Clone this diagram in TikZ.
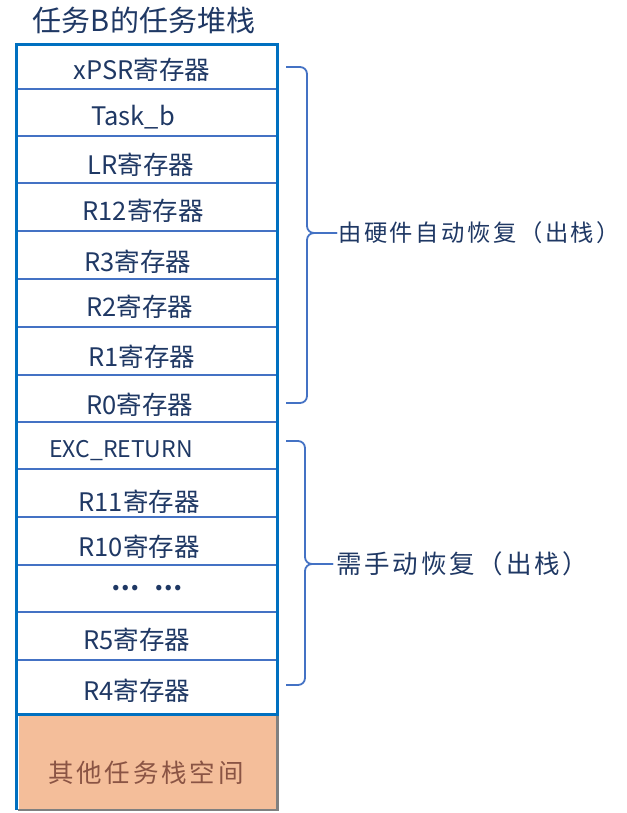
\documentclass[tikz,border=0pt]{standalone}
\usepackage{fontspec}
\setmainfont{Noto Sans CJK SC}
\newfontfamily\spacedcjk[LetterSpace=11]{Noto Sans CJK SC}
\definecolor{navytext}{HTML}{1F3864}
\definecolor{frameblue}{HTML}{0070C0}
\definecolor{lineblue}{HTML}{4472C4}
\definecolor{peach}{HTML}{F4BE9A}
\definecolor{browntext}{HTML}{8A5444}

\tikzstyle{stackrow} = [draw=lineblue, line width=1.5pt, rectangle,
    minimum width=260pt, minimum height=48pt, inner sep=0pt]
\tikzstyle{regtext} = [text=navytext, font=\fontsize{25.5}{30}\selectfont, inner sep=0pt]
\tikzstyle{sidetext} = [text=navytext, font=\spacedcjk\fontsize{25.5}{30}\selectfont,
    anchor=west, inner sep=3pt]
\tikzstyle{curly} = [draw=lineblue, line width=1.8pt, rounded corners=7pt]

\begin{document}
\begin{tikzpicture}[x=1pt, y=-1pt]
\useasboundingbox (0,0) rectangle (626,813);
\node[regtext, font=\fontsize{29}{34}\selectfont] (title) at (144,20) {任务B的任务堆栈};

% stack rows
\node[stackrow, minimum height=44pt] (xpsr) at (147,67) {};
\node[stackrow, minimum height=47pt] (task) at (147,112.5) {};
\node[stackrow, minimum height=47pt] (lr) at (147,159.5) {};
\node[stackrow] (r12) at (147,207) {};
\node[stackrow] (r3) at (147,255) {};
\node[stackrow] (r2) at (147,303) {};
\node[stackrow] (r1) at (147,351) {};
\node[stackrow, minimum height=47pt] (r0) at (147,398.5) {};
\node[stackrow, minimum height=47pt] (exc) at (147,445.5) {};
\node[stackrow] (r11) at (147,493) {};
\node[stackrow] (r10) at (147,541) {};
\node[stackrow, minimum height=47pt] (dots) at (147,588.5) {};
\node[stackrow] (r5) at (147,636) {};
\node[stackrow, minimum height=54pt] (r4) at (147,687) {};

\node[regtext] (xpsrtext) at (142,70) {xPSR寄存器};
\node[regtext] (tasktext) at (133,117) {Task\_b};
\node[regtext] (lrtext) at (141,165) {LR寄存器};
\node[regtext] (r12text) at (143,211) {R12寄存器};
\node[regtext] (r3text) at (138,262) {R3寄存器};
\node[regtext] (r2text) at (140,307) {R2寄存器};
\node[regtext] (r1text) at (142,357) {R1寄存器};
\node[regtext] (r0text) at (140,405) {R0寄存器};
\node[regtext, font=\fontsize{23}{28}\selectfont] (exctext) at (121,451) {EXC\_RETURN};
\node[regtext] (r11text) at (139,502) {R11寄存器};
\node[regtext] (r10text) at (139,547) {R10寄存器};
\node[regtext, font=\bfseries\fontsize{25}{30}\selectfont] (dotstext) at (147,588) {…\hspace{14pt}…};
\node[regtext] (r5text) at (137,640) {R5寄存器};
\node[regtext] (r4text) at (137,691) {R4寄存器};

% other stack space
\node[fill=peach, minimum width=259pt, minimum height=94pt, inner sep=0pt] (other) at (148,763) {};
\draw[gray, line width=2.5pt] (other.north east) -- (other.south east) -- (other.south west);
\node[sidetext, anchor=center, text=browntext] (othertext) at (146,773) {其他任务栈空间};

\draw[frameblue, line width=3pt] (xpsr.north west) rectangle (r4.south east);
\draw[frameblue, line width=3pt] (r4.south west) -- (r4.south west |- other.south);

% braces
\coordinate (hwtop) at (286,67);
\coordinate (hwbot) at (286,403);
\node[sidetext, inner sep=1pt, font=\spacedcjk\fontsize{23.3}{28}\selectfont] (hwlabel) at (337,233) {由硬件自动恢复（出栈）};
\draw[curly] (hwtop) -- (307,67) -- (307,233) -- (hwlabel.west);
\draw[curly] (hwbot) -- (307,403) -- (307,233) -- (hwlabel.west);

\coordinate (swtop) at (286,441);
\coordinate (swbot) at (286,685);
\node[sidetext] (swlabel) at (333,564) {需手动恢复（出栈）};
\draw[curly] (swtop) -- (305,441) -- (305,564) -- (swlabel.west);
\draw[curly] (swbot) -- (305,685) -- (305,564) -- (swlabel.west);
\end{tikzpicture}
\end{document}
